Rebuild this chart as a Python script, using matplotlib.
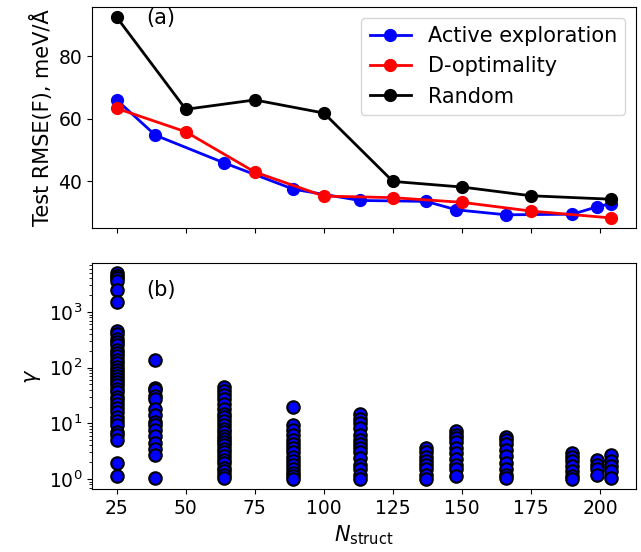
import matplotlib
matplotlib.use("Agg")
import matplotlib.pyplot as plt
import numpy as np

# ---- data ----
x_active = [25, 39, 64, 89, 113, 137, 148, 166, 190, 199, 204]
rmse_active = [66.0, 54.7, 45.8, 37.4, 33.8, 33.5, 30.8, 29.2, 29.4, 31.8, 32.8]

x_dopt = [25, 50, 75, 100, 125, 150, 175, 204]
rmse_dopt = [63.3, 55.8, 42.9, 35.2, 34.7, 33.2, 30.4, 28.2]

x_random = [25, 50, 75, 100, 125, 150, 175, 204]
rmse_random = [92.5, 63.0, 66.0, 61.8, 39.9, 38.1, 35.3, 34.2]

gamma_by_n = {
    25: [5000, 4500, 4060, 3600, 2450, 1520, 460, 400, 330, 290, 250, 210, 180,
         164, 140, 120, 101, 90, 80, 72, 62, 55, 48, 42, 36, 30, 26, 22, 18.5,
         16, 13, 11, 9.3, 7.1, 6.2, 5.0, 1.9, 1.15],
    39: [139, 43, 39, 31, 27, 18, 14, 10.7, 9.3, 7.5, 5.8, 4.4, 3.5, 2.7, 1.05],
    64: [44, 38, 32, 27, 22, 18, 15, 13, 11, 9.5, 8, 7, 6, 5.3, 4.6, 4, 3.5,
         3, 2.6, 2.2, 1.9, 1.6, 1.4, 1.17, 1.05],
    89: [19.5, 9.3, 7.6, 6.2, 5.0, 4.2, 3.6, 3.0, 2.5, 2.1, 1.8, 1.5, 1.3, 1.12, 1.0],
    113: [14.5, 12, 10, 8.2, 6.2, 5.0, 4.2, 3.6, 3.0, 2.4, 1.8, 1.5, 1.2, 1.0],
    137: [3.6, 3.1, 2.5, 2.1, 1.8, 1.5, 1.17, 1.0],
    148: [7.4, 6.2, 5.5, 4.7, 3.6, 2.9, 2.3, 1.8, 1.5, 1.12],
    166: [5.6, 5.0, 4.2, 3.35, 2.6, 1.94, 1.5, 1.2, 1.05],
    190: [2.9, 2.5, 2.1, 1.7, 1.4, 1.12, 1.0],
    199: [2.2, 1.8, 1.5, 1.2],
    204: [2.7, 2.07, 1.7, 1.38, 1.05],
}

# ---- figure ----
fig = plt.figure(figsize=(6.41, 5.52), dpi=100)
ax1 = fig.add_axes([0.1435, 0.587, 0.8485, 0.400])
ax2 = fig.add_axes([0.1435, 0.1136, 0.8485, 0.4104], sharex=ax1)

fs_tick = 13.5
fs = 15
ax1.plot(x_active, rmse_active, '-o', color='blue', lw=2, ms=8.5, label='Active exploration')
ax1.plot(x_dopt, rmse_dopt, '-o', color='red', lw=2, ms=8.5, label='D-optimality')
ax1.plot(x_random, rmse_random, '-o', color='black', lw=2, ms=8.5, label='Random')
ax1.set_ylabel('Test RMSE(F), meV/Å', fontsize=fs)
ax1.tick_params(labelsize=fs_tick, labelbottom=False)
ax1.set_yticks([40, 60, 80])
ax1.legend(fontsize=fs, loc='upper right')
ax1.text(0.1, 0.95, '(a)', transform=ax1.transAxes, fontsize=fs, va='center')

for n, vals in gamma_by_n.items():
    ax2.plot([n] * len(vals), vals, 'o', ls='none', mfc='blue', mec='black',
             mew=1.5, ms=9)
ax2.set_yscale('log')
ax2.set_ylabel(r'$\gamma$', fontsize=fs)
ax2.set_xlabel(r'$N_{\rm struct}$', fontsize=fs)
ax2.tick_params(labelsize=fs_tick)
ax2.set_xticks([25, 50, 75, 100, 125, 150, 175, 200])
ax2.text(0.1, 0.88, '(b)', transform=ax2.transAxes, fontsize=fs, va='center')

fig.savefig('out.png', dpi=100)
